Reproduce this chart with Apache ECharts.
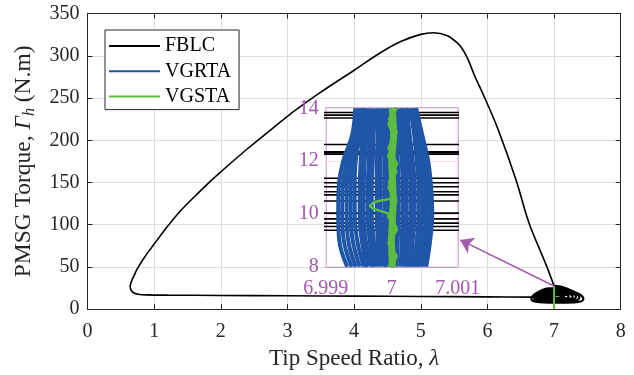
<!DOCTYPE html>
<html>
<head>
<meta charset="utf-8">
<script src="https://cdn.jsdelivr.net/npm/echarts@6/dist/echarts.min.js"></script>
<style>
  html, body { margin: 0; padding: 0; background: #ffffff; }
  #chart { width: 634px; height: 375px; }
</style>
</head>
<body>
<div id="chart"></div>
<script>
// FBLC trajectory: big excursion loop (lambda, torque)
const fblcLoop = [
  [6.68, 14.2], [6.0, 14.5], [5.0, 15.0], [4.0, 15.4], [3.0, 15.8], [2.0, 16.2],
  [1.2, 16.5], [0.89, 16.8], [0.76, 17.6], [0.69, 19.4], [0.65, 23], [0.64, 27],
  [0.66, 33], [0.70, 40], [0.74, 46.7], [0.86, 62], [0.99, 76], [1.19, 97],
  [1.39, 116], [1.64, 136], [1.92, 157], [2.4, 190], [2.9, 222], [3.09, 234],
  [3.5, 257], [4.0, 283], [4.4, 304], [4.7, 317], [5.0, 325.5], [5.19, 327.5],
  [5.40, 324], [5.54, 316], [5.61, 310], [5.67, 302], [5.73, 292], [5.80, 278],
  [5.95, 252], [6.15, 215], [6.43, 153], [6.62, 103], [6.89, 50.6], [7.0, 27.4]
];

// FBLC trajectory: settling tangle around lambda = 7 (shrinking loops)
const fblcTangle = [
  [7.0, 27.4], [7.2, 24], [7.44, 12], [7.3, 8], [7.05, 7.7], [6.78, 8.3], [6.66, 12], [6.78, 21],
  [7.0, 25], [7.18, 22.5], [7.38, 14], [7.3, 9.5], [7.05, 8.6], [6.8, 9.4], [6.7, 13], [6.82, 20],
  [7.0, 23], [7.15, 21], [7.33, 15], [7.25, 10.5], [7.05, 9.6], [6.82, 10.4], [6.73, 13.5], [6.84, 19],
  [7.0, 21], [7.14, 19.5], [7.28, 15], [7.2, 11.5], [7.03, 10.6], [6.85, 11.4], [6.77, 14], [6.87, 18],
  [7.0, 19], [7.12, 18], [7.22, 15], [7.15, 12.5], [7.02, 11.8], [6.88, 12.4], [6.82, 14.5], [6.9, 17],
  [7.0, 17], [7.1, 16.2], [7.15, 14.8], [7.08, 13.5], [6.98, 13.2], [6.9, 13.8], [6.88, 15], [6.94, 16.3],
  [7.02, 16], [6.85, 14.4], [6.68, 14.2]
];

// torque levels at which the FBLC trajectory sweeps across lambda = 7
const fblcNear7Levels = [
  13.84, 13.74, 13.63, 12.63, 12.35, 12.31, 12.26, 11.35, 11.18,
  11.03, 10.84, 10.72, 10.49, 10.03, 9.81, 9.65, 9.52, 9.38
];
// lambda span of one of those sweeps
const fblcSweepSpan = [6.998, 7.002];

// VGRTA tracks: lambda sampled at these torque levels
const vgrtaLevels = [8, 9, 10, 11, 12, 13, 14];
const vgrtaOuterTracks = [
  [6.999326, 6.999205, 6.999189, 6.999197, 6.999265, 6.999402, 6.999447],
  [6.999394, 6.999273, 6.999250, 6.999258, 6.999318, 6.999424, 6.999470],
  [6.999455, 6.999341, 6.999318, 6.999318, 6.999364, 6.999455, 6.999500],
  [6.999515, 6.999409, 6.999379, 6.999379, 6.999409, 6.999485, 6.999530],
  [6.999576, 6.999477, 6.999439, 6.999439, 6.999455, 6.999515, 6.999561],
  [7.000333, 7.000379, 7.000409, 7.000409, 7.000379, 7.000341, 7.000280],
  [7.000379, 7.000432, 7.000462, 7.000455, 7.000424, 7.000371, 7.000303],
  [7.000424, 7.000485, 7.000515, 7.000508, 7.000470, 7.000402, 7.000326],
  [7.000470, 7.000538, 7.000568, 7.000553, 7.000515, 7.000432, 7.000348],
  [7.000523, 7.000583, 7.000614, 7.000598, 7.000553, 7.000462, 7.000371]
];
const vgrtaCoreTracks = [
  [6.999652, 6.999576, 6.999545, 6.999545, 6.999561, 6.999591, 6.999621],
  [6.999742, 6.999697, 6.999667, 6.999667, 6.999682, 6.999697, 6.999712],
  [6.999833, 6.999818, 6.999803, 6.999803, 6.999803, 6.999818, 6.999818],
  [6.999939, 6.999924, 6.999924, 6.999924, 6.999924, 6.999924, 6.999924],
  [7.000045, 7.000061, 7.000076, 7.000076, 7.000061, 7.000045, 7.000030],
  [7.000167, 7.000182, 7.000197, 7.000197, 7.000182, 7.000152, 7.000121],
  [7.000258, 7.000288, 7.000318, 7.000318, 7.000288, 7.000242, 7.000197]
];

// VGSTA tracks (lambda, torque)
const vgstaTrackA = [
  [7.000000, 0], [6.999970, 3], [7.000020, 6], [6.999955, 7.6], [7.000060, 8.3],
  [6.999950, 8.9], [7.000070, 9.5], [6.999960, 10.0], [6.999720, 10.2], [6.999667, 10.3],
  [6.999730, 10.45], [7.000030, 10.6], [6.999950, 11.0], [7.000070, 11.6], [6.999945, 12.2],
  [7.000065, 12.8], [6.999950, 13.4], [7.000060, 14.0], [6.999980, 14.6], [7.000010, 20],
  [7.000000, 27.4]
];
const vgstaTrackB = [
  [6.999950, 8], [7.000075, 8.4], [6.999960, 8.9], [7.000080, 9.4], [6.999945, 9.9],
  [7.000070, 10.5], [6.999960, 11.2], [7.000080, 11.9], [6.999950, 12.5], [7.000075, 13.1],
  [6.999960, 13.6], [7.000080, 14]
];
const vgstaTrackC = [
  [7.000010, 8], [6.999995, 9], [7.000025, 10.5], [7.000000, 12], [7.000030, 13], [7.000010, 14]
];

// zoom-callout arrow, in main-axis data coordinates
const calloutFrom = [7.0, 27.4];
const calloutTo = [5.59, 82];

const FONT = 'Liberation Serif';
const INK = '#262626';
const BLACK = '#000000';
const BLUE = '#1f56a7';
const GREEN = '#5cbd3f';
const PURPLE = '#a25aac';

const toTrack = lams => lams.map((l, i) => [l, vgrtaLevels[i]]);

function lineSeries(name, data, axis, color, width, extra) {
  return Object.assign({
    type: 'line', name: name, data: data,
    xAxisIndex: axis, yAxisIndex: axis,
    symbol: 'none', showSymbol: false, silent: true,
    lineStyle: { color: color, width: width },
    itemStyle: { color: color },
    z: axis === 0 ? 2 : 12
  }, extra || {});
}

const series = [];
// main axes
series.push(lineSeries('FBLC', fblcLoop, 0, BLACK, 1.6, { smooth: 0.3 }));
series.push(lineSeries('FBLC', fblcTangle, 0, BLACK, 2.2, { smooth: 0.5 }));
vgrtaOuterTracks.concat(vgrtaCoreTracks).forEach(t =>
  series.push(lineSeries('VGRTA', toTrack(t), 0, BLUE, 1.2, { smooth: 0.4 })));
[vgstaTrackA, vgstaTrackB, vgstaTrackC].forEach(t =>
  series.push(lineSeries('VGSTA', t, 0, GREEN, 2, { z: 3 })));
series.push({
  type: 'lines', coordinateSystem: 'cartesian2d', xAxisIndex: 0, yAxisIndex: 0,
  silent: true, symbol: ['none', 'arrow'], symbolSize: 13,
  lineStyle: { color: PURPLE, width: 1.6, opacity: 1 },
  data: [{ coords: [calloutFrom, calloutTo] }], z: 4
});
// zoomed inset axes
fblcNear7Levels.forEach(y =>
  series.push(lineSeries('FBLC', [[fblcSweepSpan[0], y], [fblcSweepSpan[1], y]], 2, BLACK, 1.6)));
vgrtaOuterTracks.forEach(t =>
  series.push(lineSeries('VGRTA', toTrack(t), 2, BLUE, 4, { smooth: 0.4, z: 13 })));
vgrtaCoreTracks.forEach(t =>
  series.push(lineSeries('VGRTA', toTrack(t), 2, BLUE, 8, { smooth: 0.4, z: 13 })));
series.push(lineSeries('VGSTA', vgstaTrackA, 2, GREEN, 2.4, { z: 14 }));
series.push(lineSeries('VGSTA', vgstaTrackB, 2, GREEN, 2.6, { z: 14 }));
series.push(lineSeries('VGSTA', vgstaTrackC, 2, GREEN, 7, { z: 14 }));

// serif text is set through rich tokens
const serif = (size, color, italic) => ({
  fontFamily: FONT, fontSize: size, color: color, fontStyle: italic ? 'italic' : 'normal'
});
const tok = v => '{t|' + v + '}';
const frameAxis = { lineStyle: { color: INK, width: 1 } };
const frameTick = { show: true, inside: true, length: 5, lineStyle: { color: INK, width: 1 } };
const gridLine = { show: true, lineStyle: { color: '#dedede', width: 1 } };

const chart = echarts.init(document.getElementById('chart'), null, { renderer: 'canvas' });
chart.setOption({
  animation: false,
  backgroundColor: '#ffffff',
  textStyle: { fontFamily: FONT },
  grid: [
    { left: 87.5, right: 13.3, top: 13.7, bottom: 61.7 },
    { left: 325.7, top: 108.3, width: 132, height: 158.4, show: true,
      backgroundColor: '#ffffff', borderColor: PURPLE, borderWidth: 1.5, z: 10 }
  ],
  legend: {
    orient: 'vertical', left: 105, top: 30,
    padding: [6, 8, 3, 4], itemGap: 5.3,
    icon: 'rect', itemWidth: 51, itemHeight: 2,
    backgroundColor: '#ffffff', borderColor: INK, borderWidth: 1, borderRadius: 0,
    formatter: name => tok(name),
    textStyle: { fontFamily: FONT, fontSize: 20, color: '#000000',
      rich: { t: serif(20, '#000000') } },
    data: ['FBLC', 'VGRTA', 'VGSTA'],
    selectedMode: false
  },
  xAxis: [
    { type: 'value', gridIndex: 0, position: 'bottom', min: 0, max: 8, interval: 1,
      axisLine: Object.assign({ show: true, onZero: false }, frameAxis), axisTick: frameTick,
      axisLabel: { margin: 13, formatter: v => tok(v), rich: { t: serif(20, INK) } },
      splitLine: gridLine,
      name: '{a|Tip Speed Ratio, }{g|λ}', nameLocation: 'middle', nameGap: 32,
      nameTextStyle: { rich: { a: serif(23, INK), g: serif(23, INK, true) } } },
    { type: 'value', gridIndex: 0, position: 'top', min: 0, max: 8, interval: 1,
      axisLine: Object.assign({ show: true, onZero: false }, frameAxis), axisTick: frameTick,
      axisLabel: { show: false }, splitLine: { show: false } },
    { type: 'value', gridIndex: 1, min: 6.999, max: 7.001, interval: 0.001, z: 10,
      axisLine: { show: false }, axisTick: { show: false },
      axisLabel: { margin: 12, showMinLabel: true, showMaxLabel: true,
        formatter: v => tok(String(+(+v).toFixed(3))), rich: { t: serif(20, PURPLE) } },
      splitLine: { show: true, lineStyle: { color: '#f3dcee', width: 1 } } }
  ],
  yAxis: [
    { type: 'value', gridIndex: 0, position: 'left', min: 0, max: 350, interval: 50,
      axisLine: Object.assign({ show: true, onZero: false }, frameAxis), axisTick: frameTick,
      axisLabel: { margin: 8, formatter: v => tok(v), rich: { t: serif(20, INK) } },
      splitLine: gridLine,
      name: '{a|PMSG Torque, }{g|Γ}{s|h}{a| (N.m)}', nameLocation: 'middle', nameGap: 50,
      nameTextStyle: { rich: {
        a: serif(23.5, INK), g: serif(23.5, INK, true),
        s: Object.assign(serif(16, INK, true), { padding: [12, 0, 0, 0] })
      } } },
    { type: 'value', gridIndex: 0, position: 'right', min: 0, max: 350, interval: 50,
      axisLine: Object.assign({ show: true, onZero: false }, frameAxis), axisTick: frameTick,
      axisLabel: { show: false }, splitLine: { show: false } },
    { type: 'value', gridIndex: 1, min: 8, max: 14, interval: 2, z: 10,
      axisLine: { show: false }, axisTick: { show: false },
      axisLabel: { margin: 7, formatter: v => tok(v), rich: { t: serif(20, PURPLE) } },
      splitLine: { show: true, lineStyle: { color: '#f3dcee', width: 1 } } }
  ],
  series: series
});
</script>
</body>
</html>
